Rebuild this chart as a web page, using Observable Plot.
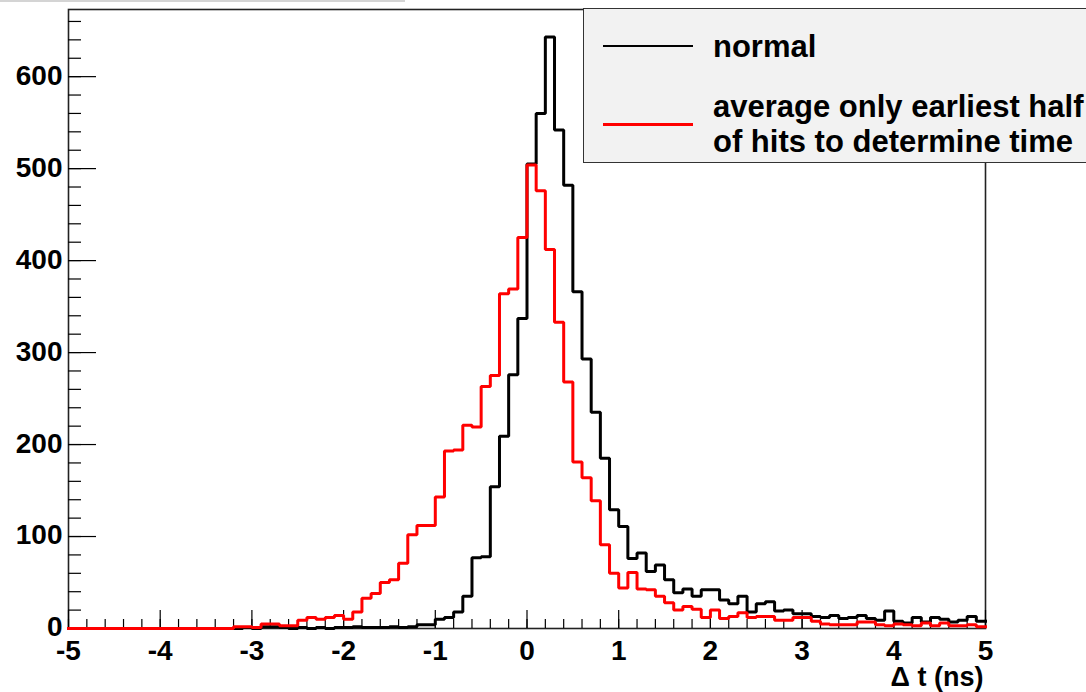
<!DOCTYPE html>
<html>
<head>
<meta charset="utf-8">
<script src="https://cdn.jsdelivr.net/npm/d3@7"></script>
<script src="https://cdn.jsdelivr.net/npm/@observablehq/plot@0.6"></script>
<style>
  html, body { margin: 0; padding: 0; background: #fff; overflow: hidden; }
  #wrap { position: relative; width: 1086px; height: 692px; overflow: hidden; background: #fff;
          font-family: "Liberation Sans", Arial, Helvetica, sans-serif; font-weight: bold; }
  #topline { position: absolute; left: 0; top: 0; width: 405px; height: 2px; background: #d4d4d4; }
  #legend { position: absolute; left: 583px; top: 8px; width: 560px; height: 155px; background: #f2f2f2;
            border: 1.5px solid #333; box-sizing: border-box; }
  .sw { position: absolute; left: 603px; width: 90px; }
  .lt { position: absolute; left: 713px; font-size: 31px; line-height: 35px; color: #000; white-space: nowrap; }
</style>
</head>
<body>
<div id="wrap"><div id="topline"></div></div>
<script>
// ---- data ----
const xMin = -5, xMax = 5, binWidth = 0.1;

// bin counts, bins of width 0.1 from -5.0 to 5.0 (100 bins)
const normalCounts = [
  0,0,0,0,0,0,0,0,0,0,            // -5.0 .. -4.1
  0,0,0,0,0,0,0,0,0,1,            // -4.0 .. -3.1
  0,2,2,1,0,1,0,1,0,1,            // -3.0 .. -2.1
  1,2,1,1,1,2,1,2,4,4,            // -2.0 .. -1.1
  10,12,18,35,77,78,154,209,276,337,   // -1.0 .. -0.1
  505,560,643,542,482,366,293,235,185,129, // 0.0 .. 0.9
  111,76,82,62,69,53,39,43,35,42, // 1.0 .. 1.9
  42,31,27,35,18,27,29,19,20,16,  // 2.0 .. 2.9
  16,13,12,14,11,12,14,11,9,19,   // 3.0 .. 3.9
  8,6,12,7,12,10,7,9,13,8         // 4.0 .. 4.9
];
const earlyHalfCounts = [
  0,0,0,0,0,0,0,0,0,0,
  0,0,0,0,0,0,0,0,2,2,
  1,5,5,3,3,9,12,10,12,14,
  10,18,33,38,50,53,71,102,112,112,
  143,193,194,221,219,263,275,364,369,425,
  504,476,412,333,268,181,164,139,91,60,
  44,61,43,42,35,28,20,24,21,12,
  20,11,13,17,12,13,13,9,9,12,
  12,8,5,4,4,4,7,7,4,3,
  5,4,3,6,3,6,3,3,4,2
];

const seriesNames = ["normal", "average only earliest half of hits to determine time"];
const seriesColors = ["#000000", "#ff0000"];
const legendLines = [["normal"], ["average only earliest half", "of hits to determine time"]];

const xMajorTicks = [-5, -4, -3, -2, -1, 0, 1, 2, 3, 4, 5];
const yMajorTicks = [0, 100, 200, 300, 400, 500, 600];
const xMinorStep = 0.2, yMinorStep = 20, yTop = 673;
const xAxisTitle = "\u0394 t (ns)";

// ---- build tables ----
function stepRows(counts, name) {
  const rows = counts.map((c, i) => ({ x: +(xMin + i * binWidth).toFixed(2), y: c, series: name }));
  rows.push({ x: xMax, y: counts[counts.length - 1], series: name });
  return rows;
}
const normalRows = stepRows(normalCounts, seriesNames[0]);
const earlyRows = stepRows(earlyHalfCounts, seriesNames[1]);
const xMinorTicks = d3.range(xMin, xMax + 1e-9, xMinorStep).map(v => +v.toFixed(2));
const yMinorTicks = d3.range(0, yTop, yMinorStep);

const fontCss = "\"Liberation Sans\", Arial, Helvetica, sans-serif";

const chart = Plot.plot({
  width: 1086,
  height: 692,
  marginLeft: 68,
  marginRight: 101,
  marginTop: 9,
  marginBottom: 64,
  style: { fontFamily: fontCss, fontSize: "28px", fontWeight: "bold", background: "transparent", color: "#000", overflow: "visible" },
  x: { domain: [xMin, xMax], label: null },
  y: { domain: [0, yTop], label: null },
  marks: [
    Plot.frame({ stroke: "#222", strokeWidth: 1.6 }),
    Plot.axisY(yMinorTicks, { tickSize: -13, fill: "none", stroke: "#000", strokeWidth: 1.2 }),
    Plot.axisY(yMajorTicks, { tickSize: -28, fill: "none", stroke: "#000", strokeWidth: 1.2 }),
    Plot.axisY(yMajorTicks, { tickSize: 0, tickPadding: 6, tickFormat: d => String(d), fontSize: 28, fontWeight: "bold", dy: -1 }),
    Plot.axisX(xMinorTicks, { tickSize: -9, fill: "none", stroke: "#000", strokeWidth: 1.2 }),
    Plot.axisX(xMajorTicks, { tickSize: -18, fill: "none", stroke: "#000", strokeWidth: 1.2 }),
    Plot.axisX(xMajorTicks, { tickSize: 0, tickPadding: 12, tickFormat: d => String(d), fontSize: 28, fontWeight: "bold" }),
    Plot.text([xAxisTitle], { text: d => d, frameAnchor: "bottom-right", dx: -2, dy: 49, textAnchor: "end", lineAnchor: "middle", fontSize: 27, fontWeight: "bold" }),
    Plot.line(normalRows, { x: "x", y: "y", curve: "step-after", stroke: seriesColors[0], strokeWidth: 3, strokeLinejoin: "miter", strokeLinecap: "square" }),
    Plot.line(earlyRows, { x: "x", y: "y", curve: "step-after", stroke: seriesColors[1], strokeWidth: 3, strokeLinejoin: "miter", strokeLinecap: "square" })
  ]
});

const wrap = document.getElementById("wrap");
chart.style.position = "absolute";
chart.style.left = "0px";
chart.style.top = "0px";
wrap.appendChild(chart);

// legend box (overlaps the top-right corner of the frame as in the reference)
const legend = document.createElement("div");
legend.id = "legend";
wrap.appendChild(legend);

const swatchY = [45, 123];
const swatchH = [2, 3];
const textTops = [[29], [89, 124]];
legendLines.forEach((lines, k) => {
  const sw = document.createElement("div");
  sw.className = "sw";
  sw.style.top = swatchY[k] + "px";
  sw.style.height = swatchH[k] + "px";
  sw.style.background = seriesColors[k];
  wrap.appendChild(sw);
  lines.forEach((t, j) => {
    const d = document.createElement("div");
    d.className = "lt";
    d.style.top = textTops[k][j] + "px";
    d.textContent = t;
    wrap.appendChild(d);
  });
});
</script>
</body>
</html>
